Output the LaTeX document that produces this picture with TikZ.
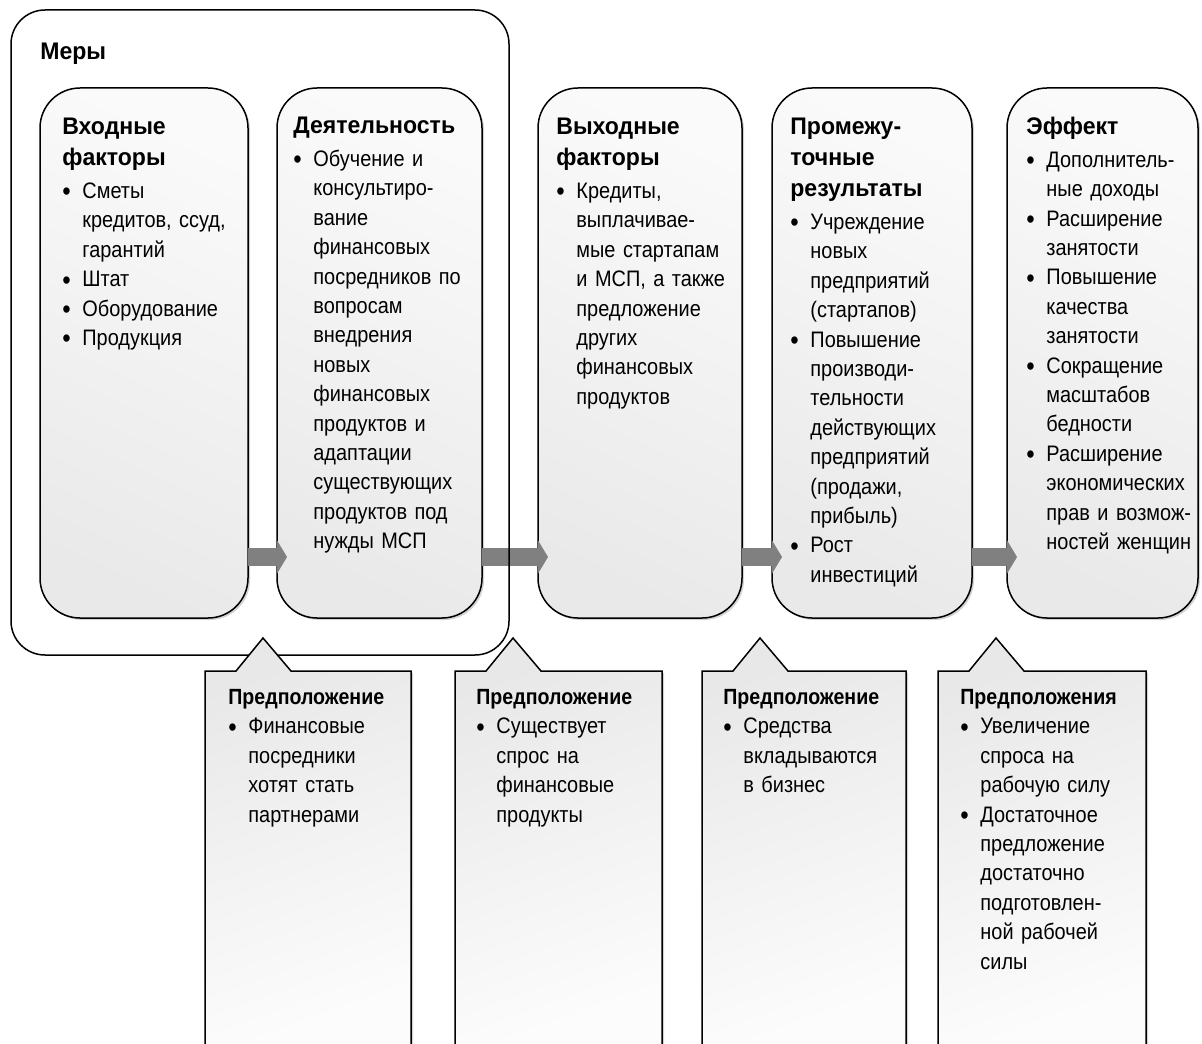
\documentclass[tikz,border=0pt]{standalone}
\usepackage{fontspec}
\setmainfont{Liberation Sans}[FakeStretch=0.89]
\newfontfamily\headfont{Liberation Sans}[FakeStretch=0.96]
\usetikzlibrary{arrows.meta,shadows,positioning}
\setlength{\parindent}{0pt}

% heading and bullet item inside the boxes
\newcommand{\hd}[1]{{\headfont\fontsize{12}{15.5}\selectfont\bfseries #1\par}\vspace{1.6pt}}
\newcommand{\asshd}[1]{{\fontsize{11}{15}\selectfont\bfseries #1\par}}
\newcommand{\bitem}[1]{{\hangindent=10pt\hangafter=1\noindent\makebox[10pt][l]{\raisebox{-1.2pt}{\fontsize{13.5}{14}\selectfont\textbullet}}#1\par}}

\begin{document}
\begin{tikzpicture}[x=0.5pt,y=0.5pt,
  stage/.style={draw,line width=0.75pt,rounded corners=20pt,minimum height=265pt,
    inner sep=0pt,outer sep=0pt,top color=gray!4,bottom color=gray!17,shading angle=-25,
    drop shadow={shadow xshift=1pt,shadow yshift=-1pt,opacity=0.35}},
  premise/.style={draw,line width=0.75pt,top color=gray!18,bottom color=gray!2,shading angle=20,
    drop shadow={shadow xshift=1pt,shadow yshift=-1pt,opacity=0.35}},
  flow/.style={line width=9pt,draw=black!50,-{Triangle[width=16.5pt,length=5pt]}},
  txt/.style={anchor=north west,inner sep=0pt,text width=110pt,font=\fontsize{11.2}{14.7}\selectfont}]

  \useasboundingbox (0,0) rectangle (1202,-1043);
  \clip (0,0) rectangle (1202,-1043);

  % results chain
  \node[stage,minimum width=104pt] (inp) at (144,-353) {};
  \node[stage,minimum width=102.5pt] (act) at (379.5,-353) {};
  \node[stage,minimum width=102pt] (outp) at (640,-353) {};
  \node[stage,minimum width=100pt] (mid) at (872,-353) {};
  \node[stage,minimum width=95.5pt] (eff) at (1102.5,-353) {};

  \draw[flow] ([yshift=30.5pt]inp.south east) -- ([xshift=5pt,yshift=30.5pt]act.south west);
  \draw[flow] ([yshift=30.5pt]act.south east) -- ([xshift=5pt,yshift=30.5pt]outp.south west);
  \draw[flow] ([yshift=30.5pt]outp.south east) -- ([xshift=5pt,yshift=30.5pt]mid.south west);
  \draw[flow] ([yshift=30.5pt]mid.south east) -- ([xshift=5pt,yshift=30.5pt]eff.south west);

  \draw[line width=0.75pt,rounded corners=17pt] (11,-10) rectangle (509,-655);
  \node[anchor=north west,inner sep=0pt,font=\headfont\fontsize{12}{14}\selectfont\bfseries] (measures) at (40,-43) {Меры};

  \node[txt] (inp text) at (62,-118) {\hd{Входные\newline факторы}
    \bitem{Сметы\newline кредитов, ссуд,\newline гарантий}
    \bitem{Штат}
    \bitem{Оборудование}
    \bitem{Продукция}};
  \node[txt] (act text) at (293,-117) {\hd{Деятельность}
    \bitem{Обучение и\newline консультиро-\newline вание\newline финансовых\newline посредников по\newline вопросам\newline внедрения\newline новых\newline финансовых\newline продуктов и\newline адаптации\newline существующих\newline продуктов под\newline нужды МСП}};
  \node[txt] (outp text) at (556,-118) {\hd{Выходные\newline факторы}
    \bitem{Кредиты,\newline выплачивае-\newline мые стартапам\newline и МСП, а также\newline предложение\newline других\newline финансовых\newline продуктов}};
  \node[txt] (mid text) at (790,-118) {\hd{Промежу-\newline точные\newline результаты}
    \bitem{Учреждение\newline новых\newline предприятий\newline (стартапов)}
    \bitem{Повышение\newline производи-\newline тельности\newline действующих\newline предприятий\newline (продажи,\newline прибыль)}
    \bitem{Рост\newline инвестиций}};
  \node[txt] (eff text) at (1026,-117) {\hd{Эффект}
    \bitem{Дополнитель-\newline ные доходы}
    \bitem{Расширение\newline занятости}
    \bitem{Повышение\newline качества\newline занятости}
    \bitem{Сокращение\newline масштабов\newline бедности}
    \bitem{Расширение\newline экономических\newline прав и возмож-\newline ностей женщин}};

  % assumptions
  \foreach \l/\r in {205/411,455/662,702/906,938/1146}
    \draw[premise] (\l,-1052) -- (\l,-671) -- (\l+31,-671) -- (\l+58,-638)
      -- (\l+86,-671) -- (\r,-671) -- (\r,-1052);

  \node[txt] (as1) at (228,-689) {\asshd{Предположение}
    \bitem{Финансовые\newline посредники\newline хотят стать\newline партнерами}};
  \node[txt] (as2) at (476,-689) {\asshd{Предположение}
    \bitem{Существует\newline спрос на\newline финансовые\newline продукты}};
  \node[txt] (as3) at (723,-689) {\asshd{Предположение}
    \bitem{Средства\newline вкладываются\newline в бизнес}};
  \node[txt] (as4) at (960,-689) {\asshd{Предположения}
    \bitem{Увеличение\newline спроса на\newline рабочую силу}
    \bitem{Достаточное\newline предложение\newline достаточно\newline подготовлен-\newline ной рабочей\newline силы}};
\end{tikzpicture}
\end{document}
